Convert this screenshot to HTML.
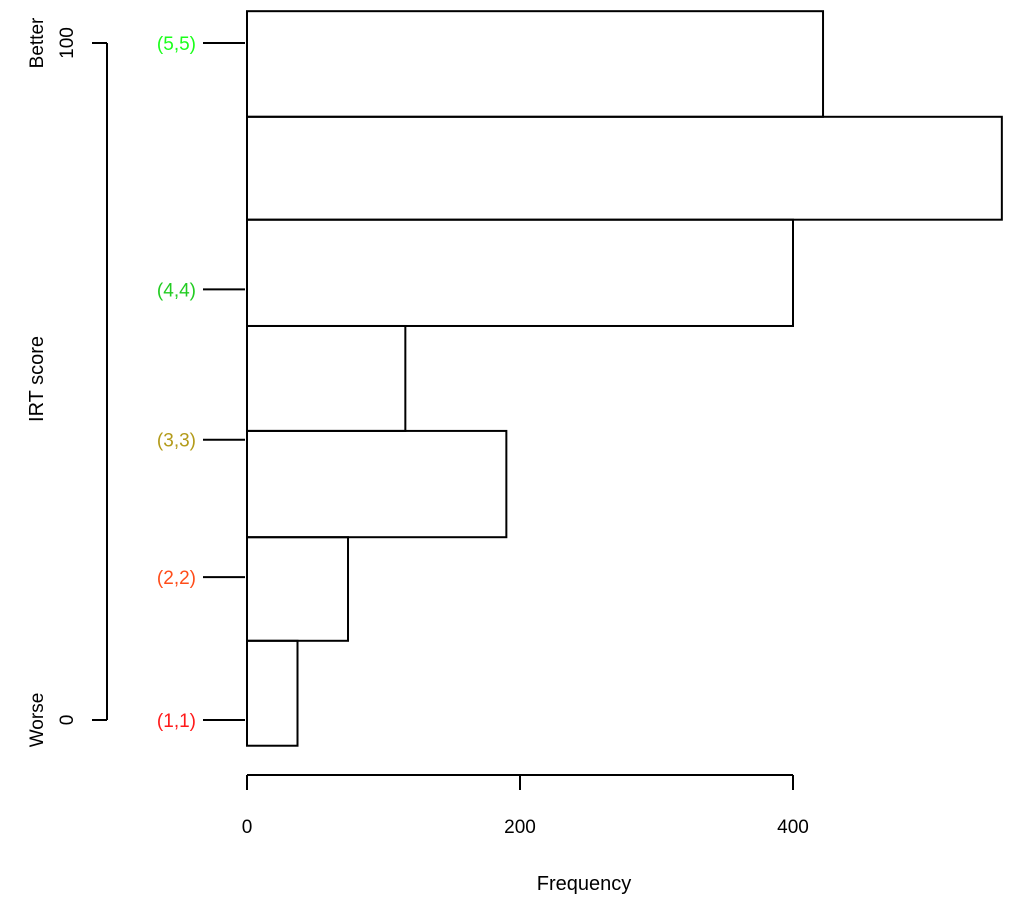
<!DOCTYPE html>
<html><head><meta charset="utf-8"><style>
body{margin:0;background:#fff}
svg{display:block;font-family:"Liberation Sans",sans-serif}
</style></head><body>
<svg id="c" width="1024" height="905">
<g id="bars"></g><g id="xaxis"></g><g id="yaxis"></g>
</svg>
<script>
const binEdges=[-3.8,11.7,27.0,42.7,58.2,73.9,89.1,104.7];
const counts=[37,74,190,116,400,553,422];
const xTicks=[0,200,400];
const labelScores=[0,21.1,41.4,63.6,100];
const labelTexts=["(1,1)","(2,2)","(3,3)","(4,4)","(5,5)"];
const labelColors=["#ff1a1a","#ff4d1a","#b39b1a","#22cc22","#1aff1a"];
const NS="http://www.w3.org/2000/svg";
const X=v=>247+v*(546/400);
const Y=s=>720-s*(677/100);
function mk(t,a,p,txt){const e=document.createElementNS(NS,t);for(const k in a)e.setAttribute(k,a[k]);if(txt!=null)e.textContent=txt;p.appendChild(e);return e;}
const bars=document.getElementById('bars'),xa=document.getElementById('xaxis'),ya=document.getElementById('yaxis');
counts.forEach((c,i)=>{
 const r=mk('rect',{x:X(0),y:Y(binEdges[i+1]),width:X(c)-X(0),height:Y(binEdges[i])-Y(binEdges[i+1]),fill:'none',stroke:'#000','stroke-width':2},bars);
 
 
});
const xl=mk('line',{x1:X(xTicks[0]),x2:X(xTicks[xTicks.length-1]),y1:775,y2:775,stroke:'#000','stroke-width':2},xa);


xTicks.forEach(t=>{
 mk('line',{x1:X(t),x2:X(t),y1:775,y2:790,stroke:'#000','stroke-width':2},xa);
 const l=mk('text',{x:X(t),y:833,'text-anchor':'middle','font-size':19,fill:'#000'},xa,String(t));
 
 
});
const xt=mk('text',{x:584,y:890,'text-anchor':'middle','font-size':20},xa,'Frequency');


const yl=mk('line',{x1:107,x2:107,y1:Y(100),y2:Y(0),stroke:'#000','stroke-width':2},ya);


[[0,'0','Worse'],[100,'100','Better']].forEach(([s,a,b])=>{
 mk('line',{x1:92,x2:107,y1:Y(s),y2:Y(s),stroke:'#000','stroke-width':2},ya);
 const t1=mk('text',{transform:`translate(73,${Y(s)}) rotate(-90)`,'text-anchor':'middle','font-size':19},ya,a);
 
 
 const t2=mk('text',{transform:`translate(43,${Y(s)}) rotate(-90)`,'text-anchor':'middle','font-size':19},ya,b);
 
 
});
const yt=mk('text',{transform:`translate(43,379) rotate(-90)`,'text-anchor':'middle','font-size':20},ya,'IRT score');


labelScores.forEach((s,i)=>{
 mk('line',{x1:203,x2:245,y1:Y(s),y2:Y(s),stroke:'#000','stroke-width':2},ya);
 const t=mk('text',{x:196,y:Y(s)+7,'text-anchor':'end','font-size':19,fill:labelColors[i]},ya,labelTexts[i]);
 
 
});
</script>
</body></html>
